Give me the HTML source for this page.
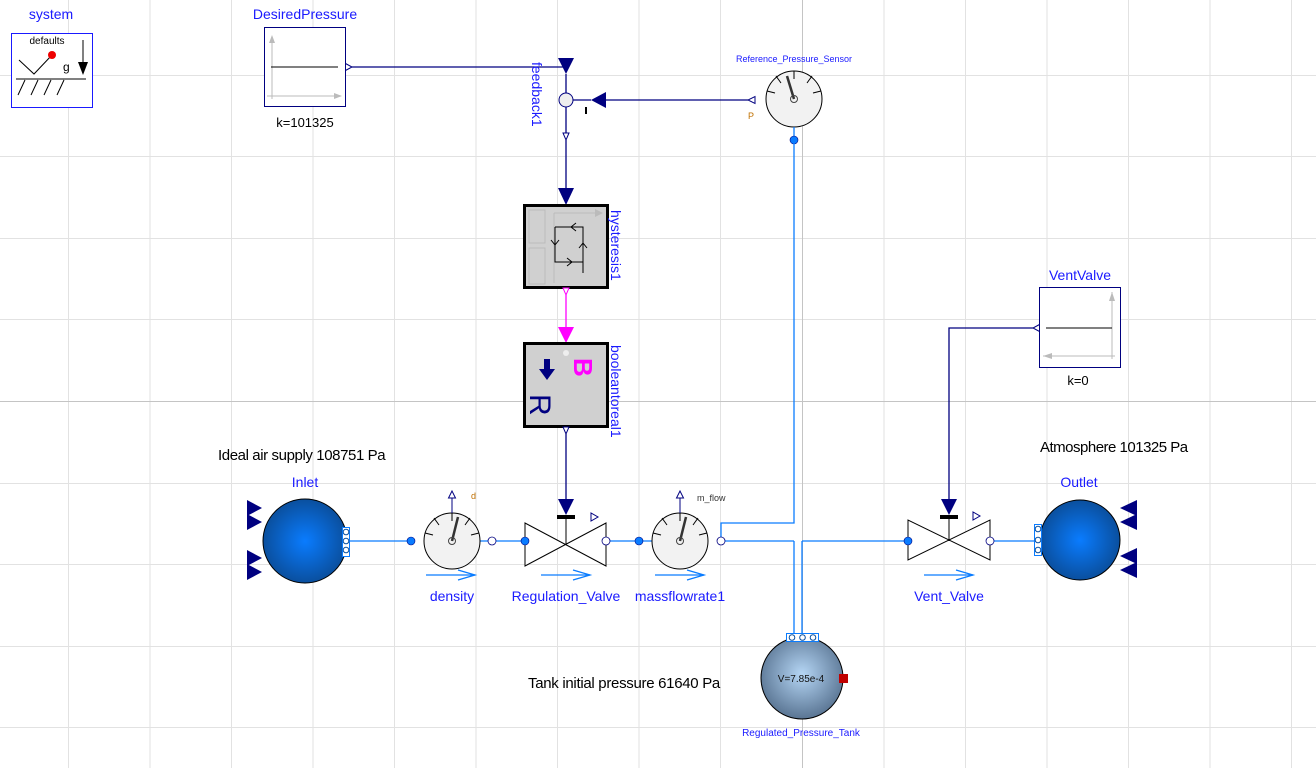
<!DOCTYPE html>
<html><head><meta charset="utf-8"><style>
html,body{margin:0;padding:0;background:#fff;}
svg{display:block;font-family:"Liberation Sans",sans-serif;}
.lb{fill:#1a1aff;}
</style></head><body>
<svg width="1316" height="768" viewBox="0 0 1316 768" xmlns="http://www.w3.org/2000/svg">
<defs>
<radialGradient id="gb" cx="50%" cy="50%" r="50%"><stop offset="0" stop-color="#0a7cff"/><stop offset="1" stop-color="#0a4f9e"/></radialGradient>
<radialGradient id="gt" cx="50%" cy="45%" r="55%"><stop offset="0" stop-color="#b5d6f5"/><stop offset="1" stop-color="#5a7593"/></radialGradient>
</defs>
<!-- grid -->
<g stroke="#e2e2e2" stroke-width="1">
<line x1="68.5" y1="0" x2="68.5" y2="768"/><line x1="150" y1="0" x2="150" y2="768"/><line x1="231.5" y1="0" x2="231.5" y2="768"/><line x1="313" y1="0" x2="313" y2="768"/><line x1="394.5" y1="0" x2="394.5" y2="768"/><line x1="476" y1="0" x2="476" y2="768"/><line x1="557.5" y1="0" x2="557.5" y2="768"/><line x1="639" y1="0" x2="639" y2="768"/><line x1="720.5" y1="0" x2="720.5" y2="768"/><line x1="884" y1="0" x2="884" y2="768"/><line x1="965.5" y1="0" x2="965.5" y2="768"/><line x1="1047" y1="0" x2="1047" y2="768"/><line x1="1128.5" y1="0" x2="1128.5" y2="768"/><line x1="1210" y1="0" x2="1210" y2="768"/><line x1="1291.5" y1="0" x2="1291.5" y2="768"/>
<line x1="0" y1="75.5" x2="1316" y2="75.5"/><line x1="0" y1="156.5" x2="1316" y2="156.5"/><line x1="0" y1="238.5" x2="1316" y2="238.5"/><line x1="0" y1="319.5" x2="1316" y2="319.5"/><line x1="0" y1="483.5" x2="1316" y2="483.5"/><line x1="0" y1="564.5" x2="1316" y2="564.5"/><line x1="0" y1="646.5" x2="1316" y2="646.5"/><line x1="0" y1="727.5" x2="1316" y2="727.5"/>
</g>
<g stroke="#c4c4c4"><line x1="802.5" y1="0" x2="802.5" y2="768"/><line x1="0" y1="401.5" x2="1316" y2="401.5"/></g>

<!-- system -->
<text x="51" y="19" class="lb" text-anchor="middle" style="font-size:14px">system</text>
<rect x="11.5" y="33.5" width="81" height="74" fill="#fff" stroke="#1a1aff"/>
<text x="47" y="44" style="font-size:10px" text-anchor="middle">defaults</text>
<polyline points="19,60 34,74 52,55" fill="none" stroke="#000"/>
<circle cx="52" cy="55" r="4" fill="#e00"/>
<text x="63" y="71" style="font-size:12px">g</text>
<line x1="83" y1="40" x2="83" y2="64" stroke="#000"/><polygon points="78,62 88,62 83,75" fill="#000"/>
<line x1="16" y1="79" x2="86" y2="79" stroke="#000"/>
<g stroke="#000"><line x1="25" y1="80" x2="18" y2="95"/><line x1="38" y1="80" x2="31" y2="95"/><line x1="51" y1="80" x2="44" y2="95"/><line x1="64" y1="80" x2="57" y2="95"/></g>

<!-- DesiredPressure -->
<text x="305" y="19" class="lb" text-anchor="middle" style="font-size:14px">DesiredPressure</text>
<rect x="264.5" y="27.5" width="81" height="79" fill="#fff" stroke="#000080"/>
<line x1="272" y1="37" x2="272" y2="99" stroke="#bbb"/><polygon points="269,43 275,43 272,35" fill="#bbb"/>
<line x1="267" y1="96" x2="341" y2="96" stroke="#bbb"/><polygon points="334,93 334,99 342,96" fill="#bbb"/>
<line x1="271" y1="67" x2="338" y2="67" stroke="#000"/>
<polygon points="345.5,63.5 352,67 345.5,70.5" fill="#fff" stroke="#000080"/>
<text x="305" y="127" style="font-size:13px" text-anchor="middle">k=101325</text>
<line x1="352" y1="67" x2="566" y2="67" stroke="#000080" stroke-width="1.3"/>

<!-- feedback -->
<polygon points="558,58 574,58 566,74" fill="#000080"/>
<line x1="566" y1="74" x2="566" y2="93" stroke="#000080" stroke-width="1.3"/>
<circle cx="566" cy="100" r="7" fill="#eee" stroke="#000080"/>
<polygon points="606,92 606,108 591,100" fill="#000080"/>
<line x1="573" y1="100" x2="591" y2="100" stroke="#000080" stroke-width="1.3"/>
<rect x="585" y="107" width="2" height="7" fill="#000"/>
<text transform="translate(532,62) rotate(90)" class="lb" style="font-size:14px">feedback1</text>
<line x1="566" y1="107" x2="566" y2="133" stroke="#000080" stroke-width="1.3"/>
<polygon points="563,133 569,133 566,140" fill="#fff" stroke="#000080"/>
<line x1="566" y1="140" x2="566" y2="188" stroke="#000080" stroke-width="1.3"/>
<polygon points="558,188 574,188 566,205" fill="#000080"/>
<line x1="606" y1="100" x2="748" y2="100" stroke="#000080" stroke-width="1.3"/>
<polygon points="755,96.5 755,103.5 748,100" fill="#fff" stroke="#000080"/>
<text x="748" y="119" fill="#c07000" style="font-size:9px">P</text>

<!-- Reference sensor -->
<text x="794" y="62" class="lb" text-anchor="middle" style="font-size:9px">Reference_Pressure_Sensor</text>
<circle cx="794" cy="99" r="28" fill="#f2f2f2" stroke="#000"/>
<g stroke="#000"><line x1="794" y1="71" x2="794" y2="79"/><line x1="776" y1="76" x2="781" y2="83"/><line x1="812" y1="76" x2="807" y2="83"/><line x1="767" y1="91" x2="775" y2="93"/><line x1="821" y1="91" x2="813" y2="93"/></g>
<line x1="794" y1="99" x2="787" y2="76" stroke="#333" stroke-width="2.5"/>
<circle cx="794" cy="99" r="3.5" fill="none" stroke="#444"/>
<line x1="794" y1="127" x2="794" y2="140" stroke="#0a7cff" stroke-width="1.3"/>
<circle cx="794" cy="140" r="4" fill="#0a7cff" stroke="#000080" stroke-width=".6"/>

<!-- hysteresis -->
<rect x="524.5" y="205.5" width="83" height="82" fill="#d0d0d0" stroke="#000" stroke-width="3"/>
<g stroke="#bbb" fill="none"><rect x="529" y="210" width="16" height="33"/><rect x="529" y="248" width="16" height="36"/><line x1="554" y1="213" x2="600" y2="213"/><line x1="554" y1="213" x2="554" y2="283"/></g>
<polygon points="595,209 603,213 595,217" fill="#bbb"/>
<g stroke="#000" fill="none"><polyline points="555,227 583,227 583,273"/><polyline points="555,227 555,262 583,262"/><polyline points="576,223 571,227 576,231"/><polyline points="567,258 572,262 567,266"/><polyline points="551,240 555,245 559,240"/><polyline points="579,248 583,243 587,248"/></g>
<text transform="translate(611,210) rotate(90)" class="lb" style="font-size:14px">hysteresis1</text>
<polygon points="563,288 569,288 566,295" fill="#fff" stroke="#ff00ff"/>
<line x1="566" y1="295" x2="566" y2="328" stroke="#ff00ff" stroke-width="1.3"/>
<polygon points="558,327 574,327 566,343" fill="#ff00ff"/>

<!-- booleantoreal -->
<rect x="524.5" y="343.5" width="83" height="83" fill="#d0d0d0" stroke="#000" stroke-width="3"/>
<circle cx="566" cy="353" r="3" fill="#eee"/>
<text transform="translate(574,358) rotate(90)" fill="#ff00ff" style="font-size:26px;font-weight:bold">B</text>
<rect x="544" y="359" width="6" height="11" fill="#000080"/><polygon points="539,369 555,369 547,380" fill="#000080"/>
<text transform="translate(530,394) rotate(90)" fill="#000080" style="font-size:30px">R</text>
<text transform="translate(611,345) rotate(90)" class="lb" style="font-size:14px">booleantoreal1</text>
<polygon points="563,427 569,427 566,434" fill="#fff" stroke="#000080"/>
<line x1="566" y1="434" x2="566" y2="500" stroke="#000080" stroke-width="1.3"/>
<polygon points="558,499 574,499 566,515" fill="#000080"/>
<rect x="557" y="515" width="18" height="4" fill="#000"/>

<!-- texts -->
<text x="218" y="460" style="font-size:15px;letter-spacing:-0.4px">Ideal air supply 108751 Pa</text>
<text x="1040" y="452" style="font-size:15px;letter-spacing:-0.5px">Atmosphere  101325 Pa</text>
<text x="528" y="688" style="font-size:15px;letter-spacing:-0.3px">Tank initial pressure 61640 Pa</text>

<!-- main pipes -->
<g stroke="#0a7cff" stroke-width="1.3" fill="none">
<line x1="349" y1="541" x2="410" y2="541"/>
<line x1="480" y1="541" x2="525" y2="541"/>
<line x1="606" y1="541" x2="652" y2="541"/>
<line x1="721" y1="541" x2="794" y2="541"/>
<polyline points="721,541 721,523 794,523 794,140"/>
<line x1="794" y1="541" x2="794" y2="637"/>
<line x1="802" y1="541" x2="802" y2="637"/>
<line x1="802" y1="541" x2="908" y2="541"/>
<line x1="990" y1="541" x2="1036" y2="541"/>
</g>

<!-- Inlet -->
<text x="305" y="487" class="lb" text-anchor="middle" style="font-size:14px">Inlet</text>
<g fill="#000080"><polygon points="247,500 262,508 247,516"/><polygon points="247,514 262,522 247,530"/><polygon points="247,550 262,558 247,566"/><polygon points="247,564 262,572 247,580"/></g>
<circle cx="305" cy="541" r="42" fill="url(#gb)" stroke="#000"/>
<rect x="342.5" y="527.5" width="7" height="29" fill="#fff" stroke="#0a7cff"/>
<g fill="#fff" stroke="#0a4f9e"><circle cx="346" cy="532" r="2.8"/><circle cx="346" cy="541" r="2.8"/><circle cx="346" cy="550" r="2.8"/></g>

<!-- density -->
<circle cx="452" cy="541" r="28" fill="#f2f2f2" stroke="#000"/>
<g stroke="#000"><line x1="452" y1="513" x2="452" y2="521"/><line x1="434" y1="518" x2="439" y2="525"/><line x1="470" y1="518" x2="465" y2="525"/><line x1="425" y1="533" x2="433" y2="535"/><line x1="479" y1="533" x2="471" y2="535"/></g>
<line x1="452" y1="541" x2="458" y2="517" stroke="#333" stroke-width="2.5"/>
<circle cx="452" cy="541" r="3.5" fill="none" stroke="#444"/>
<line x1="452" y1="513" x2="452" y2="498" stroke="#000080"/>
<polygon points="448.5,498 455.5,498 452,491" fill="#fff" stroke="#000080"/>
<text x="471" y="499" fill="#c07000" style="font-size:9px">d</text>
<circle cx="411" cy="541" r="4" fill="#0a7cff" stroke="#000080" stroke-width=".6"/>
<circle cx="492" cy="541" r="4" fill="#fff" stroke="#000080" stroke-width=".8"/>
<g stroke="#0a7cff" fill="none" stroke-width="1.3"><line x1="426" y1="575" x2="475" y2="575"/><polyline points="458,570 475,575 458,580"/></g>
<text x="452" y="601" class="lb" text-anchor="middle" style="font-size:14px">density</text>

<!-- Regulation valve -->
<polygon points="525,523 525,566 606,523 606,566" fill="#fff" stroke="#000"/>
<line x1="566" y1="519" x2="566" y2="545" stroke="#000"/>
<polygon points="591,513 591,521 598,517" fill="#fff" stroke="#000080"/>
<circle cx="525" cy="541" r="4" fill="#0a7cff" stroke="#000080" stroke-width=".6"/>
<circle cx="606" cy="541" r="4" fill="#fff" stroke="#000080" stroke-width=".8"/>
<g stroke="#0a7cff" fill="none" stroke-width="1.3"><line x1="541" y1="575" x2="590" y2="575"/><polyline points="573,570 590,575 573,580"/></g>
<text x="566" y="601" class="lb" text-anchor="middle" style="font-size:14px">Regulation_Valve</text>

<!-- massflow -->
<circle cx="680" cy="541" r="28" fill="#f2f2f2" stroke="#000"/>
<g stroke="#000"><line x1="680" y1="513" x2="680" y2="521"/><line x1="662" y1="518" x2="667" y2="525"/><line x1="698" y1="518" x2="693" y2="525"/><line x1="653" y1="533" x2="661" y2="535"/><line x1="707" y1="533" x2="699" y2="535"/></g>
<line x1="680" y1="541" x2="686" y2="517" stroke="#333" stroke-width="2.5"/>
<circle cx="680" cy="541" r="3.5" fill="none" stroke="#444"/>
<line x1="680" y1="513" x2="680" y2="498" stroke="#000080"/>
<polygon points="676.5,498 683.5,498 680,491" fill="#fff" stroke="#000080"/>
<text x="697" y="501" fill="#333" style="font-size:9px">m_flow</text>
<circle cx="639" cy="541" r="4" fill="#0a7cff" stroke="#000080" stroke-width=".6"/>
<circle cx="721" cy="541" r="4" fill="#fff" stroke="#000080" stroke-width=".8"/>
<g stroke="#0a7cff" fill="none" stroke-width="1.3"><line x1="655" y1="575" x2="704" y2="575"/><polyline points="687,570 704,575 687,580"/></g>
<text x="680" y="601" class="lb" text-anchor="middle" style="font-size:14px">massflowrate1</text>

<!-- VentValve source -->
<text x="1080" y="280" class="lb" text-anchor="middle" style="font-size:14px">VentValve</text>
<rect x="1039.5" y="287.5" width="81" height="80" fill="#fff" stroke="#000080"/>
<line x1="1112" y1="292" x2="1112" y2="359" stroke="#bbb"/><polygon points="1109,301 1115,301 1112,292" fill="#bbb"/>
<line x1="1043" y1="356" x2="1115" y2="356" stroke="#bbb"/><polygon points="1052,353 1052,359 1043,356" fill="#bbb"/>
<line x1="1046" y1="328" x2="1112" y2="328" stroke="#000"/>
<polygon points="1039.5,324.5 1033,328 1039.5,331.5" fill="#fff" stroke="#000080"/>
<text x="1078" y="385" style="font-size:13px" text-anchor="middle">k=0</text>
<polyline points="1033,328 949,328 949,500" fill="none" stroke="#000080" stroke-width="1.3"/>
<polygon points="941,499 957,499 949,515" fill="#000080"/>
<rect x="940" y="515" width="18" height="4" fill="#000"/>

<!-- Vent valve -->
<polygon points="908,520 908,560 990,520 990,560" fill="#fff" stroke="#000"/>
<line x1="949" y1="519" x2="949" y2="541" stroke="#000"/>
<polygon points="973,512 973,520 980,516" fill="#fff" stroke="#000080"/>
<circle cx="908" cy="541" r="4" fill="#0a7cff" stroke="#000080" stroke-width=".6"/>
<circle cx="990" cy="541" r="4" fill="#fff" stroke="#000080" stroke-width=".8"/>
<g stroke="#0a7cff" fill="none" stroke-width="1.3"><line x1="924" y1="575" x2="973" y2="575"/><polyline points="956,570 973,575 956,580"/></g>
<text x="949" y="601" class="lb" text-anchor="middle" style="font-size:14px">Vent_Valve</text>

<!-- Outlet -->
<text x="1079" y="487" class="lb" text-anchor="middle" style="font-size:14px">Outlet</text>
<circle cx="1080" cy="540" r="40" fill="url(#gb)" stroke="#000"/>
<g fill="#000080"><polygon points="1137,500 1120,508 1137,516"/><polygon points="1137,514 1120,522 1137,530"/><polygon points="1137,548 1120,556 1137,564"/><polygon points="1137,562 1120,570 1137,578"/></g>
<rect x="1034.5" y="524.5" width="7" height="31" fill="#fff" stroke="#0a7cff"/>
<g fill="#fff" stroke="#0a4f9e"><circle cx="1038" cy="529" r="2.8"/><circle cx="1038" cy="540" r="2.8"/><circle cx="1038" cy="550" r="2.8"/></g>

<!-- Tank -->
<circle cx="802" cy="678" r="41" fill="url(#gt)" stroke="#000"/>
<rect x="786.5" y="633.5" width="32" height="8" fill="#fff" stroke="#0a7cff"/>
<g fill="#fff" stroke="#0a4f9e"><circle cx="792" cy="637.5" r="2.8"/><circle cx="802.5" cy="637.5" r="2.8"/><circle cx="813" cy="637.5" r="2.8"/></g>
<rect x="839" y="674" width="9" height="9" fill="#c00000"/>
<text x="801" y="682" style="font-size:10px" text-anchor="middle" fill="#111">V=7.85e-4</text>
<text x="801" y="736" class="lb" text-anchor="middle" style="font-size:10px">Regulated_Pressure_Tank</text>
</svg>
</body></html>
